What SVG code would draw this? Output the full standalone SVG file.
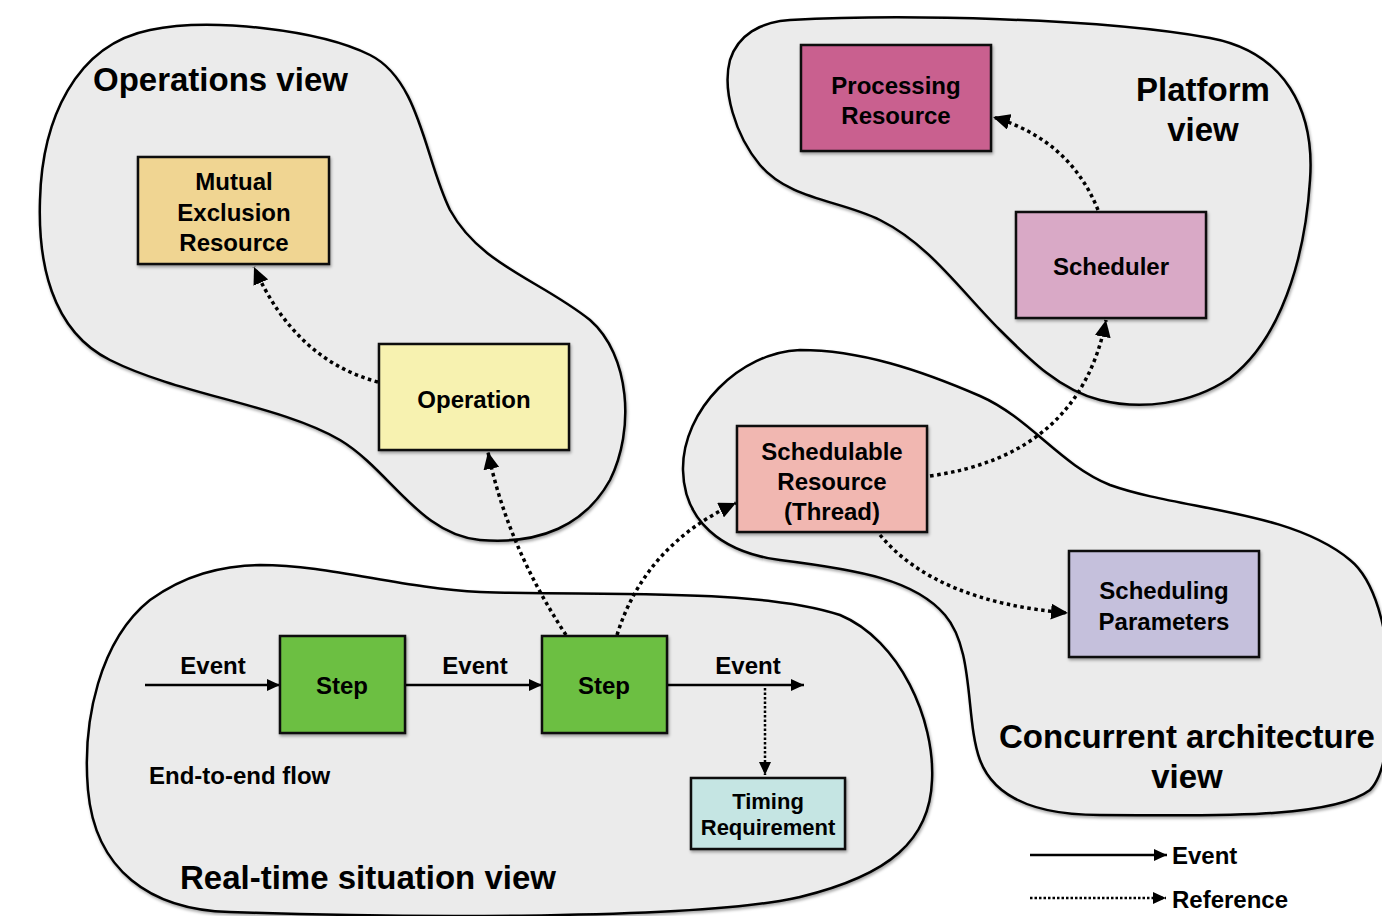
<svg xmlns="http://www.w3.org/2000/svg" width="1382" height="916" viewBox="0 0 1382 916">
  <style>
    .blob { fill: #ebebeb; stroke: #000; stroke-width: 2.5; filter: url(#shadow); }
    .box { stroke: #111; stroke-width: 2.5; filter: url(#shadow); }
    .lbl { font-family: "Liberation Sans", Arial, sans-serif; font-weight: bold; font-size: 24px; fill: #000; text-anchor: middle; }
    .lbl.start { text-anchor: start; }
    .small { font-size: 22px; }
    .title { font-family: "Liberation Sans", Arial, sans-serif; font-weight: bold; font-size: 33px; fill: #000; }
    .title.mid { text-anchor: middle; }
    .event { fill: none; stroke: #000; stroke-width: 2.5; marker-end: url(#evHead); }
    .ref { fill: none; stroke: #000; stroke-width: 3.5; stroke-dasharray: 3.5 3.5; marker-end: url(#refHead); }
    .refThin { fill: none; stroke: #000; stroke-width: 2.5; stroke-dasharray: 2.5 2; marker-end: url(#evHead); }
  </style>
  <defs>
    <filter id="shadow" x="-10%" y="-10%" width="120%" height="120%">
      <feDropShadow dx="1" dy="2" stdDeviation="1.5" flood-color="#000" flood-opacity="0.35"/>
    </filter>
    <marker id="refHead" markerUnits="userSpaceOnUse" markerWidth="18" markerHeight="16" refX="17" refY="8" orient="auto">
      <path d="M0,0 L17,8 L0,16 Z" fill="#000"/>
    </marker>
    <marker id="evHead" markerUnits="userSpaceOnUse" markerWidth="13" markerHeight="12" refX="13" refY="6" orient="auto">
      <path d="M0,0 L13,6 L0,12 Z" fill="#000"/>
    </marker>
  </defs>

  <rect width="1382" height="916" fill="#fff"/>

  <!-- view regions -->
  <g id="views">
    <path id="operations-view" class="blob" d="M150,30 C210,17 320,30 370,55 C420,80 425,160 450,210 C480,265 540,280 590,320 C630,355 635,430 610,480 C585,525 540,545 480,540 C420,535 390,470 340,440 C280,405 180,395 110,360 C50,330 38,260 40,200 C42,120 75,45 150,30 Z"/>
    <path id="platform-view" class="blob" d="M790,20 C900,14 1100,18 1210,38 C1285,52 1315,110 1310,180 C1305,260 1280,340 1230,378 C1190,405 1140,410 1100,400 C1060,390 1030,360 1000,330 C960,290 930,245 880,220 C840,200 790,200 760,165 C735,135 722,90 730,60 C738,35 760,22 790,20 Z"/>
    <path id="concurrent-view" class="blob" d="M800,350 C860,350 920,370 980,396 C1030,418 1060,465 1110,485 C1180,510 1290,510 1350,560 C1400,600 1400,760 1370,790 C1330,820 1200,815 1100,815 C1040,815 995,800 980,760 C965,720 975,650 945,615 C915,580 860,570 780,560 C720,552 684,520 683,470 C682,410 740,352 800,350 Z"/>
    <path id="realtime-view" class="blob" d="M260,565 C330,565 400,588 480,592 C600,596 760,588 840,615 C900,640 935,720 932,780 C930,840 890,875 800,897 C700,920 400,918 230,912 C150,910 95,870 88,790 C82,720 100,640 150,600 C185,575 220,566 260,565 Z"/>
  </g>

  <!-- view titles -->
  <g id="titles">
    <text class="title" x="93" y="91">Operations view</text>
    <text class="title mid" x="1203" y="101">Platform</text>
    <text class="title mid" x="1203" y="141">view</text>
    <text class="title mid" x="1187" y="748">Concurrent architecture</text>
    <text class="title mid" x="1187" y="788">view</text>
    <text class="title" x="180" y="889">Real-time situation view</text>
    <text class="lbl start" x="149" y="784">End-to-end flow</text>
  </g>

  <!-- connectors -->
  <g id="connectors">
    <path class="event" d="M145,685 L280,685"/>
    <path class="event" d="M405,685 L542,685"/>
    <path class="event" d="M667,685 L804,685"/>
    <text class="lbl" x="213" y="674">Event</text>
    <text class="lbl" x="475" y="674">Event</text>
    <text class="lbl" x="748" y="674">Event</text>
    <path class="refThin" d="M765,688 L765,775"/>
    <path class="ref" d="M378,382 Q295,360 254,267"/>
    <path class="ref" d="M566,635 Q507,545 488,452"/>
    <path class="ref" d="M617,635 Q645,545 736,503"/>
    <path class="ref" d="M880,535 Q936,602 1068,613"/>
    <path class="ref" d="M930,476 Q1080,455 1106,320"/>
    <path class="ref" d="M1098,210 Q1070,140 993,117"/>
  </g>

  <!-- nodes -->
  <g id="mutual-exclusion-resource">
    <rect class="box" x="138" y="157" width="191" height="107" fill="#f0d592"/>
    <text class="lbl" x="234" y="190">Mutual</text>
    <text class="lbl" x="234" y="221">Exclusion</text>
    <text class="lbl" x="234" y="251">Resource</text>
  </g>
  <g id="operation">
    <rect class="box" x="379" y="344" width="190" height="106" fill="#f7f2b0"/>
    <text class="lbl" x="474" y="408">Operation</text>
  </g>
  <g id="processing-resource">
    <rect class="box" x="801" y="45" width="190" height="106" fill="#c9608f"/>
    <text class="lbl" x="896" y="94">Processing</text>
    <text class="lbl" x="896" y="124">Resource</text>
  </g>
  <g id="scheduler">
    <rect class="box" x="1016" y="212" width="190" height="106" fill="#d9a9c6"/>
    <text class="lbl" x="1111" y="275">Scheduler</text>
  </g>
  <g id="schedulable-resource">
    <rect class="box" x="737" y="426" width="190" height="106" fill="#f1b7b1"/>
    <text class="lbl" x="832" y="460">Schedulable</text>
    <text class="lbl" x="832" y="490">Resource</text>
    <text class="lbl" x="832" y="520">(Thread)</text>
  </g>
  <g id="scheduling-parameters">
    <rect class="box" x="1069" y="551" width="190" height="106" fill="#c5c0dc"/>
    <text class="lbl" x="1164" y="599">Scheduling</text>
    <text class="lbl" x="1164" y="630">Parameters</text>
  </g>
  <g id="step-1">
    <rect class="box" x="280" y="636" width="125" height="97" fill="#6cbf42"/>
    <text class="lbl" x="342" y="694">Step</text>
  </g>
  <g id="step-2">
    <rect class="box" x="542" y="636" width="125" height="97" fill="#6cbf42"/>
    <text class="lbl" x="604" y="694">Step</text>
  </g>
  <g id="timing-requirement">
    <rect class="box" x="691" y="778" width="154" height="71" fill="#c5e5e3"/>
    <text class="lbl small" x="768" y="809">Timing</text>
    <text class="lbl small" x="768" y="835">Requirement</text>
  </g>

  <!-- legend -->
  <g id="legend">
    <path class="event" d="M1030,855 L1167,855"/>
    <path class="refThin" d="M1030,898 L1166,898"/>
    <text class="lbl start" x="1172" y="864">Event</text>
    <text class="lbl start" x="1172" y="908">Reference</text>
  </g>
</svg>
